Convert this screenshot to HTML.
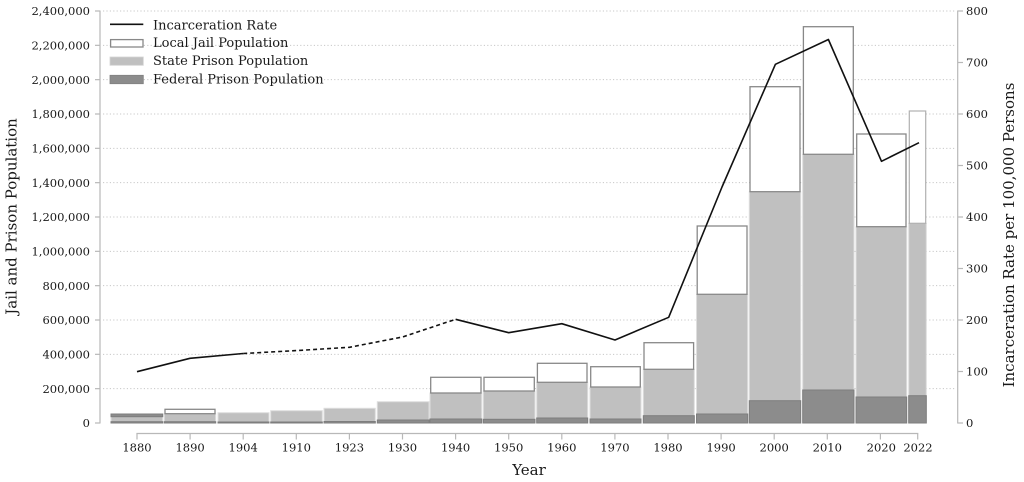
<!DOCTYPE html>
<html>
<head>
<meta charset="utf-8">
<style>
html,body{margin:0;padding:0;background:#fff;}
svg{display:block;}
text{font-family:"DejaVu Serif","Liberation Serif",serif;fill:#1a1a1a;}
.tk{font-size:11.5px;}
.lg{font-size:13px;}
.ax{font-size:15px;}
</style>
</head>
<body>
<svg width="1024" height="482" viewBox="0 0 1024 482" xmlns="http://www.w3.org/2000/svg">
<!-- grid -->
<g stroke="#c8c8c8" stroke-width="1" stroke-dasharray="1.2 2.2">
<line x1="103" y1="11" x2="955" y2="11"/>
<line x1="103" y1="45.33" x2="955" y2="45.33"/>
<line x1="103" y1="79.67" x2="955" y2="79.67"/>
<line x1="103" y1="114" x2="955" y2="114"/>
<line x1="103" y1="148.33" x2="955" y2="148.33"/>
<line x1="103" y1="182.67" x2="955" y2="182.67"/>
<line x1="103" y1="217" x2="955" y2="217"/>
<line x1="103" y1="251.33" x2="955" y2="251.33"/>
<line x1="103" y1="285.67" x2="955" y2="285.67"/>
<line x1="103" y1="320" x2="955" y2="320"/>
<line x1="103" y1="354.33" x2="955" y2="354.33"/>
<line x1="103" y1="388.67" x2="955" y2="388.67"/>
</g>

<!-- state bars -->
<g fill="#c0c0c0" stroke="#dedede" stroke-width="1">
<rect x="111" y="414" width="51.7" height="9"/>
<rect x="164.3" y="413.7" width="51.4" height="9.3"/>
<rect x="218" y="412.7" width="51" height="10.3"/>
<rect x="270.7" y="410.7" width="51.6" height="12.3"/>
<rect x="324" y="408.3" width="51.3" height="14.7"/>
<rect x="377.3" y="401.7" width="51.7" height="21.3"/>
<rect x="430" y="393" width="51.7" height="30"/>
<rect x="483.3" y="391" width="51.7" height="32"/>
<rect x="536.7" y="382.3" width="51" height="40.7"/>
<rect x="590" y="387" width="51" height="36"/>
<rect x="643.3" y="369.3" width="51" height="53.7"/>
<rect x="696.5" y="294.3" width="51.2" height="128.7"/>
<rect x="749.3" y="191.7" width="51.4" height="231.3"/>
<rect x="802.7" y="154.3" width="51.3" height="268.7"/>
<rect x="856" y="226.7" width="50.7" height="196.3"/>
<rect x="908.7" y="223.3" width="17.6" height="199.7"/>
</g>

<!-- federal bars -->
<g fill="#8c8c8c" stroke="#7e7e7e" stroke-width="1">
<rect x="111" y="414" width="51.7" height="2.7"/>
<rect x="111" y="421.7" width="51.7" height="1.3"/>
<rect x="164.3" y="421.7" width="51.4" height="1.3"/>
<rect x="218" y="422" width="51" height="1"/>
<rect x="270.7" y="422" width="51.6" height="1"/>
<rect x="324" y="421.5" width="51.3" height="1.5"/>
<rect x="377.3" y="420" width="51.7" height="3"/>
<rect x="430" y="419" width="51.7" height="4"/>
<rect x="483.3" y="419.3" width="51.7" height="3.7"/>
<rect x="536.7" y="418" width="51" height="5"/>
<rect x="590" y="419" width="51" height="4"/>
<rect x="643.3" y="415.7" width="51" height="7.3"/>
<rect x="696.5" y="414" width="51.2" height="9"/>
<rect x="749.3" y="400.7" width="51.4" height="22.3"/>
<rect x="802.7" y="390" width="51.3" height="33"/>
<rect x="856" y="397" width="50.7" height="26"/>
<rect x="908.7" y="395.7" width="17.6" height="27.3"/>
</g>

<!-- jail bars -->
<g fill="#ffffff" stroke="#888888" stroke-width="1.3">
<rect x="165" y="409.3" width="50" height="4.4"/>
<rect x="430.7" y="377.3" width="50.3" height="15.7"/>
<rect x="484" y="377.3" width="50.3" height="13.7"/>
<rect x="537.4" y="363.3" width="49.6" height="19"/>
<rect x="590.7" y="366.7" width="49.6" height="20.3"/>
<rect x="644" y="342.7" width="49.6" height="26.6"/>
<rect x="697.2" y="226" width="49.8" height="68.3"/>
<rect x="750" y="86.7" width="50" height="105"/>
<rect x="803.4" y="26.7" width="49.9" height="127.6"/>
<rect x="856.7" y="134" width="49.3" height="92.7"/>
</g>
<rect x="909.3" y="111" width="16.4" height="112.3" fill="#fff" stroke="#b0b0b0" stroke-width="1.2"/>

<!-- incarceration line -->
<g fill="none" stroke="#111" stroke-width="1.6" stroke-linejoin="round">
<polyline points="137,371.7 190,358.3 243.2,353.5"/>
<polyline points="243.2,353.5 296.3,350.6 349.4,347.3 402.5,337 455.6,319.3" stroke-dasharray="4 3"/>
<polyline points="455.6,319.3 508.7,332.7 561.8,323.7 615,340 668.7,317.3 722,187 775.4,64.3 828.4,39.5 881.5,161.3 919,142.7"/>
</g>

<!-- left axis -->
<g stroke="#b8b8b8" stroke-width="1.2">
<line x1="100" y1="10.5" x2="100" y2="423.5"/>
<line x1="95" y1="11" x2="100" y2="11"/>
<line x1="95" y1="45.33" x2="100" y2="45.33"/>
<line x1="95" y1="79.67" x2="100" y2="79.67"/>
<line x1="95" y1="114" x2="100" y2="114"/>
<line x1="95" y1="148.33" x2="100" y2="148.33"/>
<line x1="95" y1="182.67" x2="100" y2="182.67"/>
<line x1="95" y1="217" x2="100" y2="217"/>
<line x1="95" y1="251.33" x2="100" y2="251.33"/>
<line x1="95" y1="285.67" x2="100" y2="285.67"/>
<line x1="95" y1="320" x2="100" y2="320"/>
<line x1="95" y1="354.33" x2="100" y2="354.33"/>
<line x1="95" y1="388.67" x2="100" y2="388.67"/>
<line x1="95" y1="423" x2="100" y2="423"/>
</g>
<g class="tk" text-anchor="end">
<text x="90" y="15.2">2,400,000</text>
<text x="90" y="49.5">2,200,000</text>
<text x="90" y="83.9">2,000,000</text>
<text x="90" y="118.2">1,800,000</text>
<text x="90" y="152.5">1,600,000</text>
<text x="90" y="186.9">1,400,000</text>
<text x="90" y="221.2">1,200,000</text>
<text x="90" y="255.5">1,000,000</text>
<text x="90" y="289.9">800,000</text>
<text x="90" y="324.2">600,000</text>
<text x="90" y="358.5">400,000</text>
<text x="90" y="392.9">200,000</text>
<text x="90" y="427.2">0</text>
</g>

<!-- right axis -->
<g stroke="#b8b8b8" stroke-width="1.2">
<line x1="957.7" y1="10.5" x2="957.7" y2="423.5"/>
<line x1="957.7" y1="11" x2="963" y2="11"/>
<line x1="957.7" y1="62.5" x2="963" y2="62.5"/>
<line x1="957.7" y1="114" x2="963" y2="114"/>
<line x1="957.7" y1="165.5" x2="963" y2="165.5"/>
<line x1="957.7" y1="217" x2="963" y2="217"/>
<line x1="957.7" y1="268.5" x2="963" y2="268.5"/>
<line x1="957.7" y1="320" x2="963" y2="320"/>
<line x1="957.7" y1="371.5" x2="963" y2="371.5"/>
<line x1="957.7" y1="423" x2="963" y2="423"/>
</g>
<g class="tk">
<text x="966" y="15.2">800</text>
<text x="966" y="66.7">700</text>
<text x="966" y="118.2">600</text>
<text x="966" y="169.7">500</text>
<text x="966" y="221.2">400</text>
<text x="966" y="272.7">300</text>
<text x="966" y="324.2">200</text>
<text x="966" y="375.7">100</text>
<text x="966" y="427.2">0</text>
</g>

<!-- bottom axis -->
<g stroke="#b8b8b8" stroke-width="1.2">
<line x1="136.4" y1="433.5" x2="918.3" y2="433.5"/>
<line x1="137" y1="433.5" x2="137" y2="439.5"/>
<line x1="190.1" y1="433.5" x2="190.1" y2="439.5"/>
<line x1="243.2" y1="433.5" x2="243.2" y2="439.5"/>
<line x1="296.3" y1="433.5" x2="296.3" y2="439.5"/>
<line x1="349.4" y1="433.5" x2="349.4" y2="439.5"/>
<line x1="402.5" y1="433.5" x2="402.5" y2="439.5"/>
<line x1="455.6" y1="433.5" x2="455.6" y2="439.5"/>
<line x1="508.7" y1="433.5" x2="508.7" y2="439.5"/>
<line x1="561.8" y1="433.5" x2="561.8" y2="439.5"/>
<line x1="614.9" y1="433.5" x2="614.9" y2="439.5"/>
<line x1="668" y1="433.5" x2="668" y2="439.5"/>
<line x1="721.1" y1="433.5" x2="721.1" y2="439.5"/>
<line x1="774.2" y1="433.5" x2="774.2" y2="439.5"/>
<line x1="827.3" y1="433.5" x2="827.3" y2="439.5"/>
<line x1="880.4" y1="433.5" x2="880.4" y2="439.5"/>
<line x1="917.7" y1="433.5" x2="917.7" y2="439.5"/>
</g>
<g class="tk" text-anchor="middle">
<text x="137" y="451.7">1880</text>
<text x="190.1" y="451.7">1890</text>
<text x="243.2" y="451.7">1904</text>
<text x="296.3" y="451.7">1910</text>
<text x="349.4" y="451.7">1923</text>
<text x="402.5" y="451.7">1930</text>
<text x="455.6" y="451.7">1940</text>
<text x="508.7" y="451.7">1950</text>
<text x="561.8" y="451.7">1960</text>
<text x="614.9" y="451.7">1970</text>
<text x="668" y="451.7">1980</text>
<text x="721.1" y="451.7">1990</text>
<text x="774.2" y="451.7">2000</text>
<text x="827.3" y="451.7">2010</text>
<text x="881.3" y="451.7">2020</text>
<text x="918" y="451.7">2022</text>
</g>

<!-- axis labels -->
<text class="ax" x="529" y="475" text-anchor="middle">Year</text>
<text class="ax" transform="translate(16.5,216.5) rotate(-90)" text-anchor="middle">Jail and Prison Population</text>
<text class="ax" transform="translate(1014,235) rotate(-90)" text-anchor="middle">Incarceration Rate per 100,000 Persons</text>

<!-- legend -->
<line x1="110" y1="24.3" x2="143.3" y2="24.3" stroke="#111" stroke-width="1.6"/>
<rect x="110.6" y="39.6" width="32.4" height="7.4" fill="#fff" stroke="#888" stroke-width="1.3"/>
<rect x="110" y="57" width="33.3" height="8.3" fill="#c0c0c0" stroke="#d4d4d4" stroke-width="0.8"/>
<rect x="110" y="75.3" width="33.3" height="8.4" fill="#8c8c8c" stroke="#808080" stroke-width="0.8"/>
<g class="lg">
<text x="153" y="29.3">Incarceration Rate</text>
<text x="153" y="47">Local Jail Population</text>
<text x="153" y="65">State Prison Population</text>
<text x="153" y="83.3">Federal Prison Population</text>
</g>
</svg>
</body>
</html>
